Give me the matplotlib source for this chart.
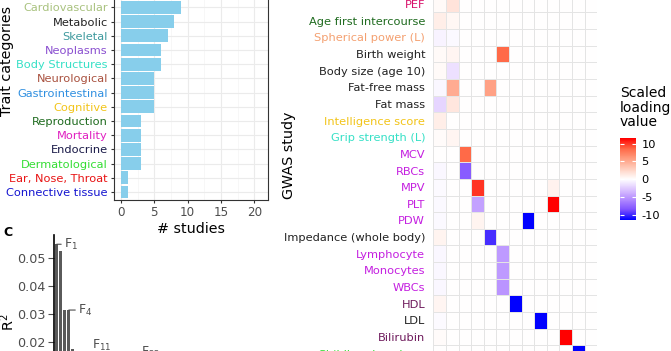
import numpy as np
import matplotlib
matplotlib.use("Agg")
import matplotlib.pyplot as plt
from matplotlib.colors import LinearSegmentedColormap

plt.rcParams["axes.unicode_minus"] = False

# --- panel B: trait categories (top to bottom) ---
categories = ["Cardiovascular", "Metabolic", "Skeletal", "Neoplasms", "Body Structures",
              "Neurological", "Gastrointestinal", "Cognitive", "Reproduction", "Mortality",
              "Endocrine", "Dermatological", "Ear, Nose, Throat", "Connective tissue"]
n_studies = [9, 8, 7, 6, 6, 5, 5, 5, 3, 3, 3, 3, 1, 1]
cat_colors = ["#a9c27f", "#222222", "#3f9a9e", "#8a4fd0", "#35e0c6",
              "#a9513f", "#2f8fe0", "#f2c418", "#1f6b1f", "#e020c0",
              "#1a1a48", "#33dd33", "#e81414", "#1414d0"]

# --- panel C: variance explained per factor ---
factor_r2 = [0.0548, 0.0525, 0.0313, 0.0313, 0.0175, 0.0158, 0.0150, 0.0143, 0.0136,
             0.0130, 0.0124, 0.0118, 0.0112, 0.0106, 0.0100, 0.0095, 0.0090, 0.0085,
             0.0080, 0.0075, 0.0070, 0.0066]
factor_labels = {1: "F$_{1}$", 4: "F$_{4}$", 11: "F$_{11}$", 22: "F$_{22}$"}

# --- panel D: scaled loadings heatmap (rows = GWAS studies, cols = factors) ---
studies = ["PEF", "Age first intercourse", "Spherical power (L)", "Birth weight",
           "Body size (age 10)", "Fat-free mass", "Fat mass", "Intelligence score",
           "Grip strength (L)", "MCV", "RBCs", "MPV", "PLT", "PDW",
           "Impedance (whole body)", "Lymphocyte", "Monocytes", "WBCs", "HDL", "LDL",
           "Bilirubin", "Childhood sunburn"]
study_colors = ["#d8106a", "#1f6b1f", "#f4a070", "#222222", "#222222", "#222222", "#222222",
                "#f2c418", "#35e0c6", "#c41fe0", "#c41fe0", "#c41fe0", "#c41fe0", "#c41fe0",
                "#222222", "#c41fe0", "#c41fe0", "#c41fe0", "#6e1a5c", "#222222",
                "#6e1a5c", "#33dd33"]
loadings = [
    [0.3, 1.7, 0, 0, 0, 0, 0, 0, 0, 0, 0, 0, 0],
    [1.0, 0.5, 0, 0, 0, 0, 0, 0, 0, 0, 0, 0, 0],
    [-0.6, -0.3, 0, 0, 0, 0, 0, 0, 0, 0, 0, 0, 0],
    [0.3, 0.6, 0, 0, 0, 8.5, 0, 0, 0, 0, 0, 0, 0],
    [0.3, -1.5, 0, 0, 0, 0, 0, 0, 0, 0, 0, 0, 0],
    [-0.4, 5.0, 0, 0, 5.5, 0, 0, 0, 0, 0, 0, 0, 0],
    [-2.0, 1.5, 0, 0, 0, 0, 0, 0, 0, 0, 0, 0, 0],
    [1.0, 0, 0, 0, 0, 0, 0, 0, 0, 0, 0, 0, 0],
    [0.2, 0.6, 0, 0, 0, 0, 0, 0, 0, 0, 0, 0, 0],
    [0, 0, 8.5, 0, 0, 0, 0, 0, 0, 0, 0, 0, 0],
    [-0.4, 0, -8.0, 0, 0, 0, 0, 0, 0, 0, 0, 0, 0],
    [-0.2, 0, 0, 10.0, 0, 0, 0, 0, 0, 0.8, 0, 0, 0],
    [-0.3, 0, 0, -4.6, 0, 0, 0, 0, 0, 11.5, 0, 0, 0],
    [-0.3, 0, 0, 0.7, 0, 0, 0, -11.5, 0, 0, 0, 0, 0],
    [0.7, 0, 0, 0, -9.8, 0, 0, 0, 0, 0, 0, 0, 0],
    [-0.4, 0, 0, 0, 0, -5.0, 0, 0, 0, 0, 0, 0, 0],
    [-0.4, 0, 0, 0, 0, -5.0, 0, 0, 0, 0, 0, 0, 0],
    [-0.4, 0, 0, 0, 0, -5.3, 0, 0, 0, 0, 0, 0, 0],
    [0.6, 0, 0, 0, 0, 0, -11.5, 0, 0, 0, 0, 0, 0],
    [-0.2, 0, 0, 0, 0, 0, 0, 0, -11.5, 0, 0, 0, 0],
    [0.2, 0, 0, 0, 0, 0, 0, 0, 0, 0, 11.5, 0, 0],
    [0, 0, 0, 0, 0, 0, 0, 0, 0, 0, 0, -11.5, 0],
]
legend_ticks = [-10, -5, 0, 5, 10]

W, H = 671, 351
GRAY = "#4d4d4d"


def box(l, t, r, b):
    # pixel box (from top-left) -> figure fraction rect
    return [l / W, 1 - b / H, (r - l) / W, (b - t) / H]


fig = plt.figure(figsize=(W / 100, H / 100), dpi=100)

# ---------- panel B ----------
ax = fig.add_axes(box(114, -100, 268, 200))
ypos = np.arange(len(categories))[::-1]
ax.barh(ypos, n_studies, height=0.9, color="#87CEEB", zorder=2)
ax.set_xlim(-1.05, 22.05)
ax.set_ylim(-0.56, -0.56 + 300 / 14.2)
ax.set_xticks([0, 5, 10, 15, 20])
ax.set_xticks([2.5, 7.5, 12.5, 17.5], minor=True)
ax.set_yticks(ypos)
ax.set_yticklabels(categories, fontsize=8.2)
for lab, c in zip(ax.get_yticklabels(), cat_colors):
    lab.set_color(c)
ax.tick_params(axis="x", labelsize=8.6, labelcolor=GRAY, length=2.5, color="#333333", pad=2)
ax.tick_params(axis="y", length=2.5, color="#333333", pad=2)
ax.tick_params(which="minor", length=0)
ax.grid(which="major", color="#ebebeb", lw=0.8, zorder=0)
ax.grid(which="minor", axis="x", color="#f4f4f4", lw=0.5, zorder=0)
ax.set_axisbelow(True)
for s in ax.spines.values():
    s.set_color("#333333")
    s.set_linewidth(0.8)
ax.set_xlabel("# studies", fontsize=10.3, labelpad=2)
fig.text(7 / W, 1 - 61 / H, "Trait categories", rotation=90, ha="center", va="center",
         fontsize=10.3)

# ---------- panel C ----------
axc = fig.add_axes(box(54, 235, 261, 397.7))
xs = np.arange(1, len(factor_r2) + 1)
axc.bar(xs, factor_r2, width=0.68, color="#5a5a5a")
axc.set_xlim(0.325, 51.75)
axc.set_ylim(0, 0.0581)
axc.set_yticks([0.02, 0.03, 0.04, 0.05])
axc.set_yticklabels(["0.02", "0.03", "0.04", "0.05"])
axc.tick_params(axis="y", labelsize=9.2, labelcolor=GRAY, color=GRAY, length=4.5, pad=1.5)
axc.set_xticks([])
for k in ["top", "right", "bottom"]:
    axc.spines[k].set_visible(False)
axc.spines["left"].set_linewidth(1.2)
offsets = {1: (1.8, 0.0, "left"), 4: (2.3, 0.0, "left"), 11: (1.1, 0.0013, "center"),
           22: (2.3, 0.0, "center")}
for i, lab in factor_labels.items():
    dx, dy, ha = offsets[i]
    v = factor_r2[i - 1]
    if i in (11, 22):
        ty = 0.0188 if i == 11 else 0.016
    else:
        ty = v + dy
    axc.annotate(lab, xy=(i, v), xytext=(i + dx, ty), ha=ha, va="center",
                 fontsize=9, color=GRAY,
                 arrowprops=dict(arrowstyle="-", color=GRAY, lw=0.8, shrinkA=0, shrinkB=0))
fig.text(3 / W, 1 - 233 / H, "C", fontsize=9, weight="bold", va="center")
fig.text(8 / W, 1 - 322 / H, "R$^2$", rotation=90, ha="center", va="center", fontsize=10.3)

# ---------- panel D ----------
cmap = LinearSegmentedColormap.from_list(
    "bwr_lab", ["#0000ff", "#7e51ff", "#b38bff", "#dcc4ff", "#ffffff",
                "#ffcfbf", "#ff9e81", "#ff6846", "#ff0000"])
vals = np.array(loadings)
axh = fig.add_axes(box(433.3, -4.3, 597.3, 362))
mesh = axh.pcolormesh(np.arange(vals.shape[1] + 1), np.arange(vals.shape[0] + 1), vals,
                      cmap=cmap, vmin=-11.5, vmax=11.5, edgecolors="#e4e4e4", linewidth=0.6)
axh.set_xlim(0, vals.shape[1])
axh.set_ylim(vals.shape[0], 0)
axh.set_xticks([])
axh.set_yticks(np.arange(len(studies)) + 0.5)
axh.set_yticklabels(studies, fontsize=8.2)
for lab, c in zip(axh.get_yticklabels(), study_colors):
    lab.set_color(c)
axh.tick_params(axis="y", length=0, pad=5.8)
for s in axh.spines.values():
    s.set_visible(False)
fig.text(289 / W, 1 - 155 / H, "GWAS study", rotation=90, ha="center", va="center",
         fontsize=10.3)

cax = fig.add_axes(box(620, 138.3, 636, 220))
cb = fig.colorbar(mesh, cax=cax, ticks=legend_ticks)
cb.outline.set_visible(False)
cax.tick_params(left=True, right=True, direction="in", length=3, color="white",
                labelsize=8.2, pad=4, labelleft=False, labelright=True)
fig.text(620 / W, 1 - 86 / H, "Scaled\nloading\nvalue", va="top", ha="left", fontsize=10,
         linespacing=1.05)

fig.savefig("out.png", dpi=100)
